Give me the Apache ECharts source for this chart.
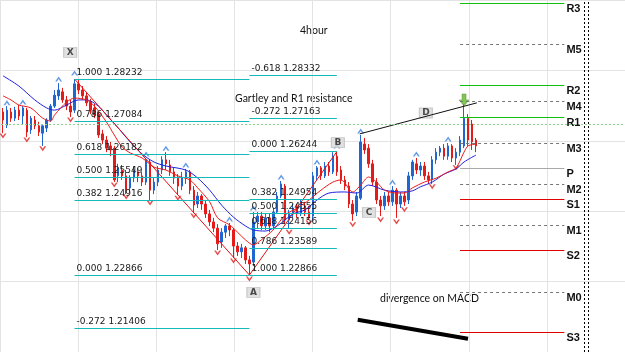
<!DOCTYPE html>
<html>
<head>
<meta charset="utf-8">
<title>4hour Gartley</title>
<script src="https://cdn.jsdelivr.net/npm/echarts@6.0.0/dist/echarts.min.js"></script>
<style>
html, body { margin: 0; padding: 0; background: #fff; }
#chart { width: 625px; height: 352px; }
</style>
</head>
<body>
<div id="chart"></div>
<script>
// H4 bars, index 0 = leftmost bar on screen
var opens = [
  1.2733,1.2697,1.2733,1.2716,1.2738,1.2722,1.2738,1.2684,1.2711,1.2695,
  1.2675,1.2689,1.2711,1.2749,1.2777,1.2788,1.2766,1.2749,1.2738,1.2810,
  1.2793,1.2777,1.2760,1.2744,1.2727,1.2673,1.2656,1.2640,1.2634,1.2558,
  1.2574,1.2558,1.2525,1.2552,1.2569,1.2558,1.2541,1.2596,1.2519,1.2541,
  1.2574,1.2602,1.2588,1.2569,1.2552,1.2530,1.2552,1.2569,1.2519,1.2481,
  1.2503,1.2481,1.2454,1.2432,1.2415,1.2377,1.2404,1.2421,1.2410,1.2366,
  1.2350,1.2361,1.2328,1.2322,1.2432,1.2448,1.2421,1.2443,1.2421,1.2459,
  1.2503,1.2530,1.2437,1.2454,1.2470,1.2454,1.2476,1.2459,1.2448,1.2558,
  1.2580,1.2558,1.2585,1.2569,1.2612,1.2574,1.2547,1.2530,1.2481,1.2459,
  1.2497,1.2645,1.2634,1.2591,1.2541,1.2492,1.2476,1.2503,1.2487,1.2519,
  1.2481,1.2503,1.2492,1.2558,1.2591,1.2574,1.2585,1.2558,1.2547,1.2602,
  1.2623,1.2634,1.2612,1.2640,1.2607,1.2623,1.2640,1.2716,1.2700,1.2656
];
var closes = [
  1.2711,1.2738,1.2716,1.2738,1.2722,1.2744,1.2678,1.2716,1.2695,1.2678,
  1.2695,1.2711,1.2749,1.2779,1.2793,1.2766,1.2749,1.2733,1.2810,1.2793,
  1.2777,1.2758,1.2738,1.2725,1.2670,1.2656,1.2634,1.2629,1.2547,1.2580,
  1.2558,1.2519,1.2552,1.2574,1.2558,1.2541,1.2602,1.2519,1.2541,1.2574,
  1.2602,1.2591,1.2569,1.2552,1.2530,1.2552,1.2569,1.2519,1.2478,1.2503,
  1.2481,1.2454,1.2432,1.2415,1.2372,1.2404,1.2421,1.2410,1.2366,1.2350,
  1.2361,1.2328,1.2317,1.2432,1.2448,1.2421,1.2443,1.2421,1.2459,1.2503,
  1.2536,1.2437,1.2454,1.2470,1.2454,1.2476,1.2459,1.2443,1.2558,1.2580,
  1.2558,1.2585,1.2569,1.2612,1.2569,1.2547,1.2530,1.2481,1.2454,1.2503,
  1.2651,1.2629,1.2591,1.2541,1.2492,1.2476,1.2503,1.2487,1.2519,1.2481,
  1.2503,1.2487,1.2558,1.2596,1.2574,1.2585,1.2558,1.2547,1.2602,1.2623,
  1.2634,1.2612,1.2640,1.2607,1.2623,1.2656,1.2716,1.2656,1.2651,1.2640
];
var highs = [
  1.2744,1.2749,1.2744,1.2747,1.2752,1.2749,1.2744,1.2722,1.2722,1.2706,
  1.2700,1.2716,1.2755,1.2793,1.2812,1.2799,1.2777,1.2766,1.28232,1.2821,
  1.2804,1.2788,1.2769,1.2755,1.2733,1.2684,1.2667,1.2651,1.2640,1.2591,
  1.2588,1.2574,1.2560,1.2585,1.2580,1.2569,1.2607,1.2602,1.2552,1.2585,
  1.2612,1.2623,1.2602,1.2580,1.2563,1.2569,1.2577,1.2574,1.2530,1.2514,
  1.2508,1.2492,1.2465,1.2443,1.2426,1.2415,1.2426,1.2429,1.2415,1.2377,
  1.2372,1.2366,1.2339,1.2459,1.2459,1.2459,1.2454,1.2454,1.2470,1.2514,
  1.2544,1.2536,1.2465,1.2481,1.2481,1.2492,1.2487,1.2476,1.2569,1.2585,
  1.2585,1.2596,1.2596,1.2623,1.26244,1.2585,1.2558,1.2541,1.2492,1.2514,
  1.2670,1.2662,1.2645,1.2602,1.2552,1.2503,1.2514,1.2514,1.2530,1.2525,
  1.2514,1.2514,1.2569,1.2602,1.2607,1.2596,1.2596,1.2569,1.2612,1.2634,
  1.2640,1.2645,1.2648,1.2645,1.2634,1.2667,1.2755,1.2727,1.2711,1.2662
];
var lows = [
  1.2675,1.2689,1.2706,1.2708,1.2711,1.2700,1.2664,1.2673,1.2686,1.2667,
  1.2640,1.2678,1.2706,1.2744,1.2766,1.2758,1.2738,1.2719,1.2730,1.2782,
  1.2766,1.2749,1.2727,1.2716,1.2662,1.2645,1.2623,1.2612,1.2541,1.2541,
  1.2547,1.2508,1.2514,1.2541,1.2541,1.2530,1.2533,1.2492,1.2508,1.2530,
  1.2563,1.2574,1.2558,1.2536,1.2506,1.2519,1.2536,1.2508,1.2456,1.2470,
  1.2465,1.2443,1.2421,1.2404,1.2355,1.2361,1.2388,1.2393,1.2333,1.2339,
  1.2333,1.2317,1.22866,1.2311,1.2415,1.2410,1.2410,1.2404,1.2410,1.2454,
  1.2497,1.2426,1.2413,1.2443,1.2443,1.2448,1.2448,1.2437,1.2437,1.2547,
  1.2547,1.2552,1.2558,1.2563,1.2558,1.2536,1.2519,1.2470,1.2435,1.2448,
  1.2492,1.2618,1.2580,1.2530,1.2481,1.2448,1.2465,1.2476,1.2476,1.2443,
  1.2470,1.2476,1.2481,1.2547,1.2563,1.2558,1.2547,1.2536,1.2536,1.2591,
  1.2612,1.2602,1.2602,1.2596,1.2588,1.2612,1.2634,1.2640,1.2629,1.2623
];

// moving averages (bar index, price)
var fastMaBars = [0,2,4,7,10,12,13,16,18,21,23,26,28,30,32,35,38,41,44,47,49,52,54,57,59,61,63,65,68,71,74,77,80,83,85,88,90,92,94,96,99,101,103,106,109,112,114,116,117,119];
var fastMaValues = [1.2777,1.2766,1.2752,1.2744,1.2716,1.2708,1.2725,1.2760,1.2771,1.2766,1.2749,1.2706,1.2670,1.2637,1.2621,1.2607,1.2582,1.2574,1.2558,1.2547,1.2525,1.2487,1.2443,1.2424,1.2404,1.2383,1.2369,1.2383,1.2410,1.2451,1.2470,1.2492,1.2519,1.2541,1.2547,1.2514,1.2533,1.2555,1.2541,1.2519,1.2511,1.2511,1.2525,1.2541,1.2552,1.2569,1.2580,1.2623,1.2640,1.2645];
var slowMaBars = [0,4,8,11,13,16,19,21,24,26,29,32,35,38,41,46,49,52,55,58,61,63,66,69,73,76,79,82,86,89,92,96,100,103,105,108,111,114,116,119];
var slowMaValues = [1.2832,1.2804,1.2766,1.2744,1.2738,1.2752,1.2766,1.2766,1.2749,1.2725,1.2689,1.2651,1.2618,1.2596,1.2585,1.2574,1.2552,1.2519,1.2478,1.2445,1.2421,1.2410,1.2407,1.2421,1.2454,1.2465,1.2492,1.2511,1.2514,1.2511,1.2533,1.2519,1.2514,1.2517,1.2528,1.2541,1.2563,1.2577,1.2596,1.2615];

// fractal arrows
var fractalUpBars = [1,5,14,18,36,41,46,57,63,70,79,84,90,98,104,112];
var fractalUpPrices = [1.2758,1.2760,1.2823,1.2840,1.2618,1.2634,1.2588,1.2440,1.2470,1.2555,1.2596,1.2640,1.2681,1.2541,1.2618,1.2659];
var fractalDownBars = [0,6,10,17,28,31,37,44,48,54,58,62,72,77,88,95,99,101,108,114];
var fractalDownPrices = [1.2667,1.2656,1.2632,1.2711,1.2533,1.2500,1.2484,1.2497,1.2448,1.2347,1.2325,1.2276,1.2404,1.2429,1.2424,1.2437,1.2432,1.2465,1.2528,1.2580];

// Gartley legs X-A-B
var legBars = [18, 62, 84];
var legPrices = [1.28232, 1.22866, 1.26244];

// fibo on X-A and on A-B
var fibXALevels = ['1.000','0.786','0.618','0.500','0.382','0.000','-0.272'];
var fibXAPrices = [1.28232,1.27084,1.26182,1.25549,1.24916,1.22866,1.21406];
var fibABLevels = ['-0.618','-0.272','0.000','0.382','0.500','0.618','0.786','1.000'];
var fibABPrices = [1.28332,1.27163,1.26244,1.24954,1.24555,1.24156,1.23589,1.22866];

// daily pivots
var pivotNames = ['R3','M5','R2','M4','R1','M3','P','M2','S1','M1','S2','M0','S3'];
var pivotPrices = [1.3031,1.2919,1.2807,1.2763,1.2719,1.2648,1.2580,1.2536,1.2495,1.2424,1.2355,1.2240,1.2131];

// point labels
var pointNames = ['X','A','B','C','D'];
var pointBars = [16.9, 63, 84.25, 92.1, 106.4];
var pointPrices = [1.2896, 1.2239, 1.2649, 1.2458, 1.2730];

var signalBar = 116, signalPrice = 1.2766;
var bidPrice = 1.2714;
var trendBars = [89.75, 119.25], trendPrices = [1.2673, 1.2758];
var macdBars = [89.25, 117], macdPrices = [1.2164, 1.2112];
var shiftBars = [146.25, 147.25];

function pairs(xs, ys) {
  return xs.map(function (x, k) { return [x, ys[k]]; });
}

var candles = opens.map(function (o, i) {
  return [i, o, closes[i], lows[i], highs[i]];
});

function fibLines(levels, prices, fromBar, toBar, style) {
  return levels.map(function (lvl, k) {
    return [
      { name: lvl + ' ' + prices[k].toFixed(5), coord: [fromBar, prices[k]], lineStyle: style },
      { coord: [toBar, prices[k]] }
    ];
  });
}

function pivotLines(prefix, style) {
  var out = [];
  pivotNames.forEach(function (n, k) {
    if (n.charAt(0) !== prefix) return;
    out.push([{ name: n, coord: [115, pivotPrices[k]], lineStyle: style }, { coord: [141.25, pivotPrices[k]] }]);
  });
  return out;
}

function markSeries(data, lineStyle, label) {
  return {
    type: 'line', xAxisIndex: 1, yAxisIndex: 1, data: [], silent: true,
    markLine: {
      symbol: ['none', 'none'], silent: true, animation: false,
      lineStyle: lineStyle,
      label: label || { show: false },
      data: data
    }
  };
}

var fibStyle = { color: '#14b9b9', width: 1, type: 'solid', opacity: 1 };
var rStyle = { color: '#10c010', width: 1, type: 'solid', opacity: 1 };
var sStyle = { color: '#e00000', width: 1, type: 'solid', opacity: 1 };
var mStyle = { color: '#777', width: 1, type: [3, 3], opacity: 1 };
var pStyle = { color: '#a8a8a8', width: 1, type: 'solid', opacity: 1 };

var fibLabel = {
  show: true, position: 'insideStartTop', distance: 2, formatter: '{b}',
  color: '#1a1a1a', fontFamily: 'DejaVu Sans', fontSize: 9
};
var pivotLabel = {
  show: true, position: 'end', distance: 2, offset: [0, 6], formatter: '{b}',
  color: '#111', fontFamily: 'Liberation Sans', fontSize: 11, fontWeight: 'bold'
};

var chart = echarts.init(document.getElementById('chart'));

chart.setOption({
  animation: false,
  backgroundColor: '#fff',
  grid: [
    { left: -37.4, top: -76, width: 681.4, height: 455 },
    { left: 1, top: 0, width: 628, height: 352 }
  ],
  xAxis: [
    { type: 'value', gridIndex: 0, min: 0, max: 8, interval: 1,
      axisLine: { show: false }, axisTick: { show: false }, axisLabel: { show: false },
      splitLine: { show: true, lineStyle: { color: '#e3e3e3', width: 1 } } },
    { type: 'value', gridIndex: 1, min: -0.5, max: 156.5, show: false }
  ],
  yAxis: [
    { type: 'value', gridIndex: 0, min: 0, max: 5, interval: 1, inverse: true,
      axisLine: { show: false }, axisTick: { show: false }, axisLabel: { show: false },
      splitLine: { show: true, lineStyle: { color: '#e3e3e3', width: 1 } } },
    { type: 'value', gridIndex: 1, min: 1.20759, max: 1.30395, show: false }
  ],
  graphic: [
    { type: 'text', left: 300, top: 25, style: { text: '4hour', fill: '#111', font: '10.5px Lato' } },
    { type: 'text', left: 235, top: 93, style: { text: 'Gartley and R1 resistance', fill: '#111', font: '10.5px Lato' } },
    { type: 'text', left: 380, top: 293, style: { text: 'divergence on MACD', fill: '#111', font: '10.5px Lato' } }
  ],
  series: [
    // fibo lines
    markSeries(fibLines(fibXALevels, fibXAPrices, legBars[0], legBars[1], fibStyle), fibStyle, fibLabel),
    markSeries(fibLines(fibABLevels, fibABPrices, legBars[1], legBars[2], fibStyle), fibStyle, fibLabel),
    // pivots
    markSeries(pivotLines('R', rStyle), rStyle, pivotLabel),
    markSeries(pivotLines('S', sStyle), sStyle, pivotLabel),
    markSeries(pivotLines('M', mStyle), mStyle, pivotLabel),
    markSeries(pivotLines('P', pStyle), pStyle, pivotLabel),
    // bid line and shift separators
    markSeries([{ yAxis: bidPrice }], { color: '#8fd08f', width: 1, type: [2, 2] }),
    markSeries(shiftBars.map(function (b) { return { xAxis: b }; }),
      { color: '#000', width: 1, type: [2, 2] }),
    {
      type: 'candlestick', xAxisIndex: 1, yAxisIndex: 1,
      barWidth: 2,
      itemStyle: {
        color: '#1f66d1', color0: '#e31b1b',
        borderColor: '#1f66d1', borderColor0: '#e31b1b', borderWidth: 1
      },
      data: candles
    },
    {
      type: 'line', xAxisIndex: 1, yAxisIndex: 1, smooth: 0.3, symbol: 'none',
      lineStyle: { color: '#2020e0', width: 1 },
      data: pairs(slowMaBars, slowMaValues)
    },
    {
      type: 'line', xAxisIndex: 1, yAxisIndex: 1, smooth: 0.3, symbol: 'none',
      lineStyle: { color: '#ee1c1c', width: 1 },
      data: pairs(fastMaBars, fastMaValues)
    },
    {
      type: 'line', xAxisIndex: 1, yAxisIndex: 1, symbol: 'none',
      lineStyle: { color: '#e01010', width: 1 },
      data: pairs(legBars, legPrices)
    },
    {
      type: 'line', xAxisIndex: 1, yAxisIndex: 1, symbol: 'none',
      lineStyle: { color: '#111', width: 1 },
      data: pairs(trendBars, trendPrices)
    },
    {
      type: 'line', xAxisIndex: 1, yAxisIndex: 1, symbol: 'none',
      lineStyle: { color: '#000', width: 4 },
      data: pairs(macdBars, macdPrices)
    },
    {
      type: 'scatter', xAxisIndex: 1, yAxisIndex: 1,
      symbol: 'path://M0,6 L4,0 L8,6 L6,6 L4,3 L2,6 Z', symbolSize: [7, 5],
      itemStyle: { color: '#3d82e0' },
      data: pairs(fractalUpBars, fractalUpPrices)
    },
    {
      type: 'scatter', xAxisIndex: 1, yAxisIndex: 1,
      symbol: 'path://M0,0 L4,6 L8,0 L6,0 L4,3 L2,0 Z', symbolSize: [7, 5],
      itemStyle: { color: '#e02020' },
      data: pairs(fractalDownBars, fractalDownPrices)
    },
    {
      type: 'scatter', xAxisIndex: 1, yAxisIndex: 1,
      symbol: 'path://M3,0 L7,0 L7,6 L10,6 L5,12 L0,6 L3,6 Z', symbolSize: [10, 12],
      itemStyle: { color: '#62b72c', borderColor: '#3e8a1a', borderWidth: 0.5 },
      data: [[signalBar, signalPrice]]
    },
    {
      type: 'scatter', xAxisIndex: 1, yAxisIndex: 1,
      symbol: 'rect', symbolSize: [13, 10],
      itemStyle: { color: '#d9d9d9', borderColor: '#bdbdbd', borderWidth: 1 },
      label: { show: true, position: 'inside', formatter: '{b}', color: '#222',
        fontFamily: 'DejaVu Sans', fontSize: 9, fontWeight: 'bold' },
      data: pointNames.map(function (n, k) {
        return { name: n, value: [pointBars[k], pointPrices[k]] };
      })
    }
  ]
});
</script>
</body>
</html>
